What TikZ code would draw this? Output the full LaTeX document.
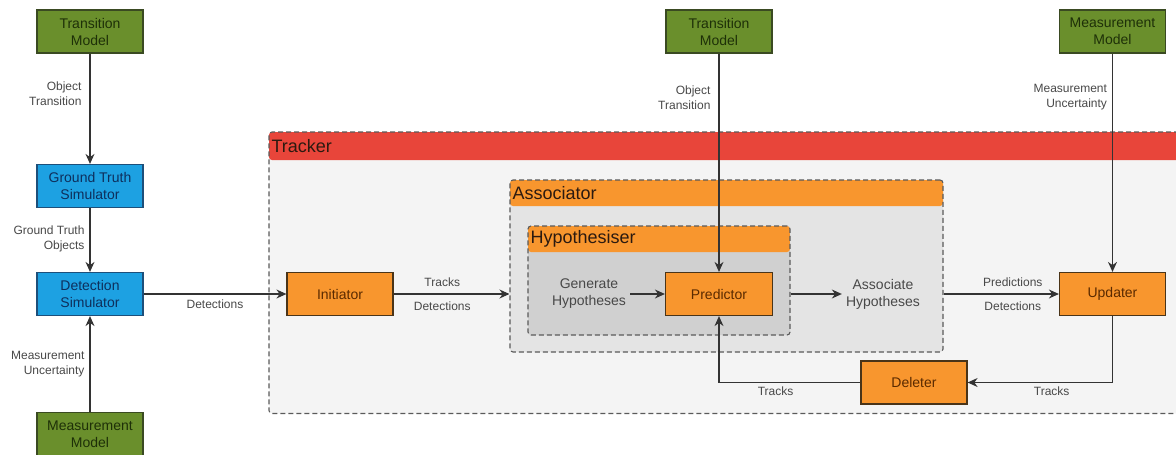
\documentclass[tikz,border=0pt]{standalone}
\usepackage{fontspec}
\setmainfont{Liberation Sans}
\usetikzlibrary{arrows.meta,calc}

\definecolor{modelgreen}{HTML}{6A8F2C}
\definecolor{modeltext}{HTML}{1E3008}
\definecolor{modeldraw}{HTML}{3A4A22}
\definecolor{simblue}{HTML}{1DA1E2}
\definecolor{simtext}{HTML}{0E2F5C}
\definecolor{simdraw}{HTML}{1D4F7A}
\definecolor{procorange}{HTML}{F8962E}
\definecolor{proctext}{HTML}{5A2A00}
\definecolor{procdraw}{HTML}{4A3418}
\definecolor{trackred}{HTML}{E8453A}
\definecolor{trackbg}{HTML}{F4F4F4}
\definecolor{assocbg}{HTML}{E4E4E4}
\definecolor{hypbg}{HTML}{D0D0D0}
\definecolor{labelgray}{HTML}{484848}
\definecolor{dashgray}{HTML}{5A5A5A}
\definecolor{linegray}{HTML}{333333}
\definecolor{headtext}{HTML}{2B1A10}

\tikzset{
  box/.style={draw, line width=1.2pt, minimum width=106pt, minimum height=43pt,
    align=center, inner sep=0pt, font=\fontsize{14}{17}\selectfont},
  model/.style={box, fill=modelgreen, draw=modeldraw, text=modeltext},
  sim/.style={box, fill=simblue, draw=simdraw, text=simtext},
  proc/.style={box, fill=procorange, draw=procdraw, text=proctext},
  lbl/.style={font=\fontsize{12}{15}\selectfont, text=labelgray, align=right, inner sep=2pt},
  step text/.style={font=\fontsize{14}{17}\selectfont, text=labelgray, align=center, inner sep=4pt},
  flow/.style={draw=linegray, line width=1.1pt, -{Stealth[length=10pt,width=9pt]}},
  container/.style={draw=dashgray, line width=1.1pt, dash pattern=on 5pt off 3pt,
    rounded corners=3pt, inner sep=0pt},
  header/.style 2 args={path picture={
    \fill[#1] (path picture bounding box.north west)
      rectangle ([yshift=-#2]path picture bounding box.north east);}},
  headlabel/.style={anchor=west, inner sep=0pt, text=headtext, font=\fontsize{18}{20}\selectfont},
}

\begin{document}
\begin{tikzpicture}[x=1pt,y=-1pt]
\useasboundingbox (0,0) rectangle (1176,455);

% nested containers
\node[container, fill=trackbg, header={trackred}{28pt},
      minimum width=921pt, minimum height=281.5pt] (tracker) at (729.5,272.75) {};
\node[headlabel] at ([xshift=3pt,yshift=-14.5pt]tracker.north west) {Tracker};

\node[container, fill=assocbg, header={procorange}{26pt},
      minimum width=433pt, minimum height=172pt] (assoc) at (726.5,266) {};
\node[headlabel] at ([xshift=3pt,yshift=-13.5pt]assoc.north west) {Associator};

\node[container, fill=hypbg, header={procorange}{26pt},
      minimum width=262pt, minimum height=109pt] (hyp) at (659,280.5) {};
\node[headlabel] at ([xshift=3pt,yshift=-13.5pt]hyp.north west) {Hypothesiser};

% simulation chain
\node[model] (tm1) at (90,31.5) {Transition\\Model};
\node[sim] (gts) at (90,186) {Ground Truth\\Simulator};
\node[sim] (det) at (90,294) {Detection\\Simulator};
\node[model] (mm1) at (90,434) {Measurement\\Model};

% tracker components
\node[proc] (init) at (340,294) {Initiator};
\node[step text] (gen) at (589,294) {Generate\\Hypotheses};
\node[proc, minimum width=107pt] (pred) at (719,294) {Predictor};
\node[step text] (asshyp) at (883,294) {Associate\\Hypotheses};
\node[proc] (upd) at (1112.5,294) {Updater};
\node[proc] (del) at (914,382.5) {Deleter};

\node[model] (tm2) at (719,31.5) {Transition\\Model};
\node[model] (mm2) at (1112.5,31.5) {Measurement\\Model};

% connectors
\draw[flow] (tm1) -- (gts) node[lbl, left=6pt, pos=0.36] {Object\\Transition};
\draw[flow] (gts) -- (det) node[lbl, left=3pt, pos=0.48] {Ground Truth\\Objects};
\draw[flow] (mm1) -- (det) node[lbl, left=3pt, pos=0.5] {Measurement\\Uncertainty};
\draw[flow] (det) -- (init) node[lbl, below=3pt, pos=0.5] {Detections};
\draw[flow] (init) -- (init -| assoc.west)
  node[lbl, above=5pt, pos=0.42] {Tracks}
  node[lbl, below=5pt, pos=0.42] {Detections};
\draw[flow] (gen) -- (pred);
\draw[flow] (tm2) -- (pred) node[lbl, left=6pt, pos=0.2] {Object\\Transition};
\draw[flow] (hyp.east |- pred) -- (asshyp);
\draw[flow] (assoc.east |- upd) -- (upd)
  node[lbl, above=5pt, pos=0.6] {Predictions}
  node[lbl, below=5pt, pos=0.6] {Detections};
\draw[flow] (mm2) -- (upd) node[lbl, left=3pt, pos=0.2] {Measurement\\Uncertainty};
\draw[flow] (upd) |- (del) node[lbl, below=2pt, pos=0.71] {Tracks};
\draw[flow] (del) -| (pred) node[lbl, below=2pt, pos=0.3] {Tracks};
\end{tikzpicture}
\end{document}
